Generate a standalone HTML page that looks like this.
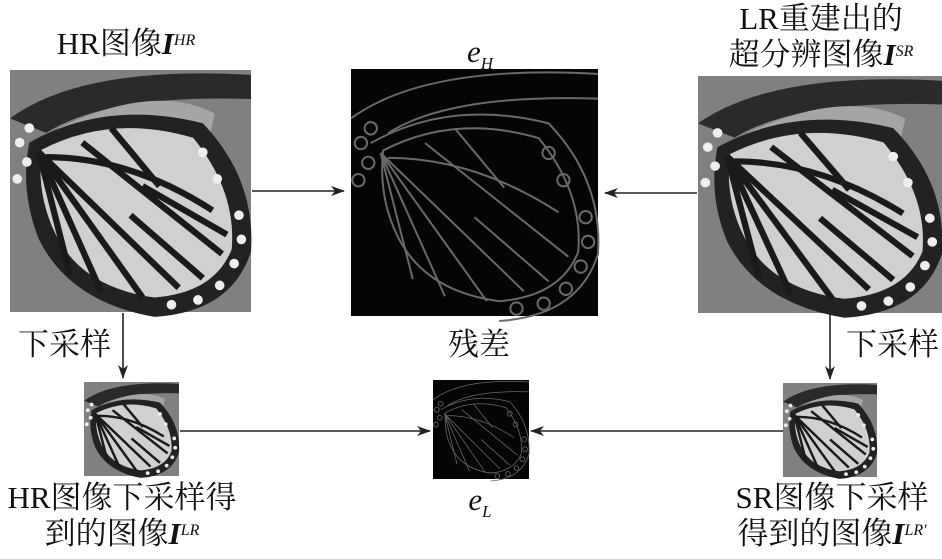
<!DOCTYPE html>
<html><head><meta charset="utf-8"><style>
html,body{margin:0;padding:0;background:#fff;}
body{width:942px;height:559px;position:relative;overflow:hidden;font-family:"Liberation Serif","Noto Serif CJK SC",serif;color:#111;}
.t{position:absolute;font-size:31px;line-height:36px;white-space:nowrap;text-align:center;}
i{font-style:italic;}
sup{font-size:16px;font-style:italic;vertical-align:top;position:relative;top:-3px;}
sub{font-size:17px;font-style:italic;}
</style></head><body>
<svg width="942" height="559" style="position:absolute;left:0;top:0">
<defs>
<g id="bf">
 <rect x="0" y="0" width="100" height="100" fill="#808080"/>
 <path d="M0 20 Q30 -2 100 2 L100 12 Q40 10 15 26 Z" fill="#2a2a2a"/>
 <path d="M20 24 Q60 5 85 18 L80 40 Q40 26 20 24Z" fill="#a5a5a5"/>
 <path d="M8 30 Q40 12 80 22 Q102 45 100 75 Q92 100 60 102 Q25 96 12 70 Q4 50 8 30Z" fill="#222"/>
 <path d="M13 33 Q42 18 76 28 Q94 50 92 74 Q85 92 60 94 Q30 90 19 68 Q11 52 13 33Z" fill="#d0d0d0"/>
 <g stroke="#1a1a1a" stroke-width="2.6" fill="none">
  <path d="M12 34 L55 94"/><path d="M12 34 L38 92"/><path d="M12 34 L70 90"/><path d="M12 34 L25 85"/>
  <path d="M15 36 Q50 36 84 58"/><path d="M30 30 L88 76"/><path d="M42 24 L62 48"/>
  <path d="M55 48 L90 68"/><path d="M50 60 L80 86"/>
 </g>
 <g fill="#eee">
  <circle cx="95" cy="60" r="2"/><circle cx="96" cy="70" r="2"/><circle cx="93" cy="80" r="2"/><circle cx="87" cy="89" r="2"/><circle cx="78" cy="95" r="2"/><circle cx="67" cy="97" r="2"/><circle cx="86" cy="45" r="2"/><circle cx="80" cy="34" r="2"/>
  <circle cx="4" cy="30" r="2"/><circle cx="7" cy="38" r="2"/><circle cx="3" cy="45" r="2"/><circle cx="8" cy="24" r="2"/>
 </g>
</g>
<g id="er">
 <rect x="0" y="0" width="100" height="100" fill="#050505"/>
 <g stroke="#6a6a6a" stroke-width="0.8" fill="none">
  <path d="M8 30 Q40 12 80 22 Q102 45 100 75 Q92 100 60 102"/>
  <path d="M13 33 Q42 18 76 28 Q94 50 92 74 Q85 92 60 94 Q30 90 19 68 Q11 52 13 33Z"/>
  <path d="M12 34 L55 94"/><path d="M12 34 L38 92"/><path d="M12 34 L70 90"/><path d="M12 34 L25 85"/>
  <path d="M15 36 Q50 36 84 58"/><path d="M30 30 L88 76"/><path d="M42 24 L62 48"/><path d="M50 60 L80 86"/>
  <path d="M0 20 Q30 -2 100 2"/><path d="M15 26 Q40 10 100 12"/>
  <circle cx="95" cy="60" r="2.5"/><circle cx="96" cy="70" r="2.5"/><circle cx="93" cy="80" r="2.5"/><circle cx="87" cy="89" r="2.5"/><circle cx="78" cy="95" r="2.5"/><circle cx="86" cy="45" r="2.5"/><circle cx="80" cy="34" r="2.5"/><circle cx="4" cy="30" r="2.5"/><circle cx="7" cy="38" r="2.5"/><circle cx="3" cy="45" r="2.5"/><circle cx="8" cy="24" r="2.5"/><circle cx="67" cy="97" r="2.5"/>
 </g>
</g>
<marker id="ah" markerWidth="14" markerHeight="10" refX="13" refY="5" orient="auto" markerUnits="userSpaceOnUse"><path d="M0 0 L14 5 L0 10 L4 5Z" fill="#222"/></marker>
</defs>
<use href="#bf" transform="translate(10,70) scale(2.41,2.42)"/>
<use href="#er" transform="translate(351,69) scale(2.47,2.47)"/>
<use href="#bf" transform="translate(698,76) scale(2.44,2.37)"/>
<use href="#bf" transform="translate(84,382) scale(0.95,0.94)"/>
<use href="#er" transform="translate(433,380) scale(0.96,0.99)"/>
<use href="#bf" transform="translate(783,383) scale(0.94,0.94)"/>
<g stroke="#222" stroke-width="1.6" marker-end="url(#ah)">
 <line x1="252" y1="191" x2="344" y2="191"/>
 <line x1="697" y1="193" x2="605" y2="193"/>
 <line x1="123" y1="313" x2="123" y2="378"/>
 <line x1="830" y1="313" x2="830" y2="379"/>
 <line x1="180" y1="431" x2="430" y2="431"/>
 <line x1="783" y1="431" x2="531" y2="431"/>
</g>
</svg>
<div class="t" style="left:6px;top:26px;width:240px;">HR图像<b><i>I</i></b><sup>HR</sup></div>
<div class="t" style="left:440px;top:34px;width:80px;"><i>e</i><sub>H</sub></div>
<div class="t" style="left:700px;top:1px;width:242px;">LR重建出的<br>超分辨图像<b><i>I</i></b><sup>SR</sup></div>
<div class="t" style="left:18px;top:327px;">下采样</div>
<div class="t" style="left:448px;top:327px;">残差</div>
<div class="t" style="left:846px;top:327px;">下采样</div>
<div class="t" style="left:0px;top:480px;width:244px;">HR图像下采样得<br>到的图像<b><i>I</i></b><sup>LR</sup></div>
<div class="t" style="left:440px;top:482px;width:80px;"><i>e</i><sub>L</sub></div>
<div class="t" style="left:712px;top:480px;width:240px;">SR图像下采样<br>得到的图像<b><i>I</i></b><sup>LR'</sup></div>
</body></html>
